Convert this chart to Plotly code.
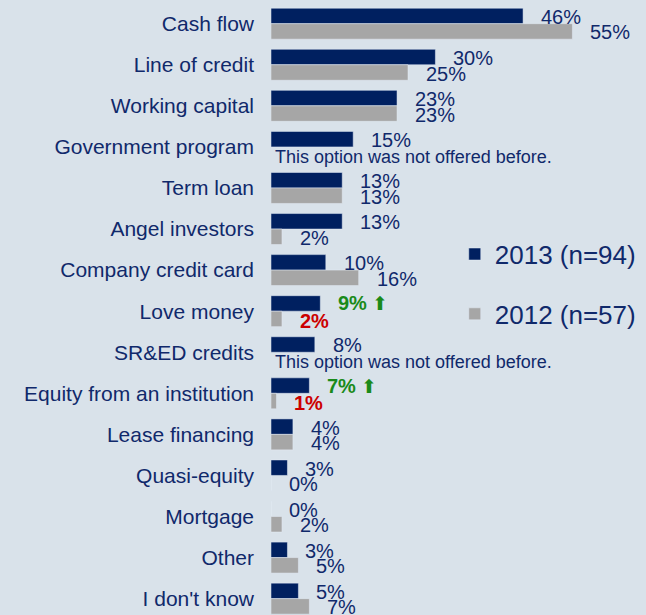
import plotly.graph_objects as go

categories = ["Cash flow", "Line of credit", "Working capital", "Government program",
              "Term loan", "Angel investors", "Company credit card", "Love money",
              "SR&ED credits", "Equity from an institution", "Lease financing",
              "Quasi-equity", "Mortgage", "Other", "I don't know"]
values_2013 = [46, 30, 23, 15, 13, 13, 10, 9, 8, 7, 4, 3, 0, 3, 5]
values_2012 = [55, 25, 23, None, 13, 2, 16, 2, None, 1, 4, 0, 2, 5, 7]
series_names = ["2013 (n=94)", "2012 (n=57)"]
significant_change = ["Love money", "Equity from an institution"]
not_offered_note = "This option was not offered before."

NAVY = "#002060"
GRAY = "#a6a6a6"
TEXT = "#10296b"
BG = "#d9e2ea"
GREEN = "#1a8a1a"
RED = "#cc0000"

pos = list(range(len(categories)))
half = 0.1887

fig = go.Figure()
fig.add_trace(go.Bar(y=pos, x=values_2013, orientation="h", name=series_names[0],
                     marker=dict(color=NAVY), legendgroup="a", hoverinfo="skip"))
fig.add_trace(go.Bar(y=pos, x=values_2012, orientation="h", name=series_names[1],
                     marker=dict(color=GRAY), legendgroup="b", hoverinfo="skip"))

ann = []
for i, cat in enumerate(categories):
    v13 = values_2013[i]
    v12 = values_2012[i]
    hi = cat in significant_change
    if hi:
        ann.append(dict(x=v13, y=i - half, xref="x", yref="y", xanchor="left", yanchor="middle",
                        xshift=16, showarrow=False,
                        text=f"<b>{v13}%</b> <span style='font-size:19px'>⬆</span>",
                        font=dict(size=20, color=GREEN)))
    else:
        ann.append(dict(x=v13, y=i - half, xref="x", yref="y", xanchor="left", yanchor="middle",
                        xshift=16, yshift=-1, showarrow=False, text=f"{v13}%",
                        font=dict(size=20, color=TEXT)))
    if v12 is None:
        ann.append(dict(x=0, y=i + half, xref="x", yref="y", xanchor="left", yanchor="middle",
                        xshift=2, yshift=-2, showarrow=False, text=not_offered_note,
                        font=dict(size=18, color=TEXT)))
    elif hi:
        ann.append(dict(x=v12, y=i + half, xref="x", yref="y", xanchor="left", yanchor="middle",
                        xshift=16, yshift=-2, showarrow=False, text=f"<b>{v12}%</b>",
                        font=dict(size=20, color=RED)))
    else:
        ann.append(dict(x=v12, y=i + half, xref="x", yref="y", xanchor="left", yanchor="middle",
                        xshift=16, yshift=-1, showarrow=False, text=f"{v12}%",
                        font=dict(size=20, color=TEXT)))

fig.update_layout(
    width=646, height=615,
    margin=dict(l=271, r=0, t=0, b=0),
    paper_bgcolor=BG, plot_bgcolor=BG,
    barmode="group", bargap=0.246, bargroupgap=0,
    font=dict(family="Liberation Sans, Arial, sans-serif", color=TEXT),
    showlegend=True,
    legend=dict(x=0.49, y=0.538, xanchor="left", yanchor="middle",
                font=dict(size=26, color=TEXT), bgcolor="rgba(0,0,0,0)",
                traceorder="grouped", tracegroupgap=23),
    annotations=ann,
    hovermode=False,
)
fig.update_xaxes(range=[0, 375 / 5.48], showgrid=False, zeroline=False,
                 showticklabels=False, showline=False, fixedrange=True)
fig.update_yaxes(range=[14.398, -0.577], tickvals=pos, ticktext=categories,
                 showgrid=False, zeroline=False, showline=False, ticks="",
                 ticklabelstandoff=16, tickfont=dict(size=21, color=TEXT), fixedrange=True)

fig.write_html("out.html", config={"displayModeBar": False},
               post_script="document.body.style.margin='0';document.body.style.background='%s';" % BG)
